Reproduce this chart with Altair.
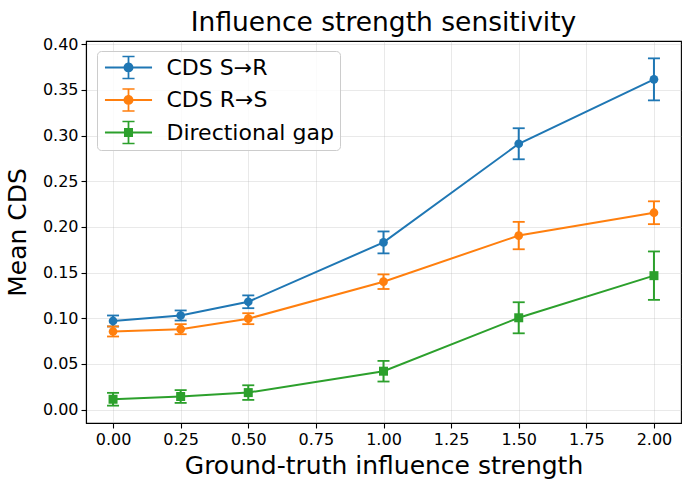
import altair as alt
import pandas as pd

# ---- data ----
strength = [0.0, 0.25, 0.5, 1.0, 1.5, 2.0]
sr_mean = [0.097, 0.103, 0.118, 0.183, 0.291, 0.3615]
sr_err = [0.006, 0.0055, 0.007, 0.012, 0.017, 0.023]
rs_mean = [0.0855, 0.088, 0.0995, 0.140, 0.1905, 0.2155]
rs_err = [0.0055, 0.0055, 0.006, 0.008, 0.015, 0.0125]
gap_mean = [0.0113, 0.0143, 0.0186, 0.042, 0.1005, 0.1466]
gap_err = [0.007, 0.007, 0.008, 0.0113, 0.017, 0.0265]

series_names = ["CDS S→R", "CDS R→S", "Directional gap"]
series_colors = ["#1f77b4", "#ff7f0e", "#2ca02c"]
x_ticks = [0.0, 0.25, 0.5, 0.75, 1.0, 1.25, 1.5, 1.75, 2.0]
y_ticks = [0.0, 0.05, 0.1, 0.15, 0.2, 0.25, 0.3, 0.35, 0.4]

rows = []
for name, means, errs in zip(series_names, [sr_mean, rs_mean, gap_mean], [sr_err, rs_err, gap_err]):
    for xv, m, e in zip(strength, means, errs):
        rows.append({"series": name, "x": xv, "mean": m, "lo": m - e, "hi": m + e})
df = pd.DataFrame(rows)

FONT = "DejaVu Sans"

# legend glyphs (filled shapes: line + error bar + caps + marker); 1 unit = 11 px
def rect(x0, y0, x1, y1):
    return f"M{x0},{y0}H{x1}V{y1}H{x0}Z"

base_glyph = (rect(-2.14, -0.09, 2.14, 0.09) + rect(-0.08, -1.0, 0.08, 1.0)
              + rect(-0.55, -1.07, 0.55, -0.93) + rect(-0.55, 0.93, 0.55, 1.07))
circle_glyph = base_glyph + "M0.45,0A0.45,0.45 0 1,1 -0.45,0A0.45,0.45 0 1,1 0.45,0Z"
square_glyph = base_glyph + rect(-0.41, -0.41, 0.41, 0.41)
legend_shapes = [circle_glyph, circle_glyph, square_glyph]

color_scale = alt.Scale(domain=series_names, range=series_colors)
x_enc = alt.X("x:Q", scale=alt.Scale(domain=[-0.1, 2.1], nice=False, zero=False),
              axis=alt.Axis(values=x_ticks, format=".2f", title="Ground-truth influence strength"))
y_scale = alt.Scale(domain=[-0.0147, 0.4035], nice=False, zero=False)
y_axis = alt.Axis(values=y_ticks, format=".2f", title="Mean CDS")

base = alt.Chart(df)

leg = alt.Legend(
    title=None, orient="none", legendX=11, legendY=10,
    padding=5.5, fillColor="rgba(255,255,255,0.8)", strokeColor="#cccccc", cornerRadius=4,
    labelFont=FONT, labelFontSize=22, labelColor="black", labelLimit=400,
    symbolSize=484, symbolStrokeWidth=0, rowPadding=8.5, symbolOffset=15, labelOffset=27,
    symbolOpacity=1,
)
legend_layer = base.transform_filter("datum.x < -100").mark_point(filled=True, opacity=1).encode(
    x=x_enc, y=alt.Y("mean:Q", scale=y_scale, axis=y_axis),
    color=alt.Color("series:N", scale=color_scale, legend=leg),
    shape=alt.Shape("series:N", scale=alt.Scale(domain=series_names, range=legend_shapes), legend=leg),
)

rules = base.mark_rule(strokeWidth=2).encode(
    x=x_enc,
    y=alt.Y("lo:Q", scale=y_scale, axis=y_axis),
    y2="hi:Q",
    color=alt.Color("series:N", scale=color_scale),
)
caps_lo = base.mark_point(shape="M-1,0H1", size=144, filled=False, strokeWidth=1.8, opacity=1).encode(
    x=x_enc, y=alt.Y("lo:Q", scale=y_scale, axis=y_axis),
    color=alt.Color("series:N", scale=color_scale),
)
caps_hi = base.mark_point(shape="M-1,0H1", size=144, filled=False, strokeWidth=1.8, opacity=1).encode(
    x=x_enc, y=alt.Y("hi:Q", scale=y_scale, axis=y_axis),
    color=alt.Color("series:N", scale=color_scale),
)

layers = [legend_layer, rules, caps_lo, caps_hi]
for name, shp, sz in zip(series_names, ["circle", "circle", "square"], [76, 76, 81]):
    sub = base.transform_filter(alt.datum.series == name)
    line = sub.mark_line(strokeWidth=2).encode(
        x=x_enc, y=alt.Y("mean:Q", scale=y_scale, axis=y_axis),
        color=alt.Color("series:N", scale=color_scale),
    )
    pts = sub.mark_point(filled=True, shape=shp, size=sz, opacity=1).encode(
        x=x_enc, y=alt.Y("mean:Q", scale=y_scale, axis=y_axis),
        color=alt.Color("series:N", scale=color_scale),
    )
    layers += [line, pts]

chart = alt.layer(*layers).properties(
    width=595, height=382,
    title=alt.TitleParams("Influence strength sensitivity", font=FONT, fontSize=26.5,
                          fontWeight="normal", color="black", anchor="middle", offset=0),
    autosize=alt.AutoSizeParams(type="none"),
    padding={"left": 86, "top": 41, "right": 8, "bottom": 67},
).configure_view(
    stroke="black", strokeWidth=1.1
).configure_axis(
    labelFont=FONT, labelFontSize=16, labelColor="black",
    titleFont=FONT, titleFontSize=25, titleFontWeight="normal", titleColor="black",
    tickColor="black", tickSize=5, tickWidth=1.1, labelPadding=3,
    domainColor="black", domainWidth=1.1,
    grid=True, gridColor="#b0b0b0", gridOpacity=0.35, gridWidth=0.8,
).configure_axisX(titlePadding=6).configure_axisY(titlePadding=12)

chart.save("out.html", embed_options={"renderer": "svg", "actions": False})
